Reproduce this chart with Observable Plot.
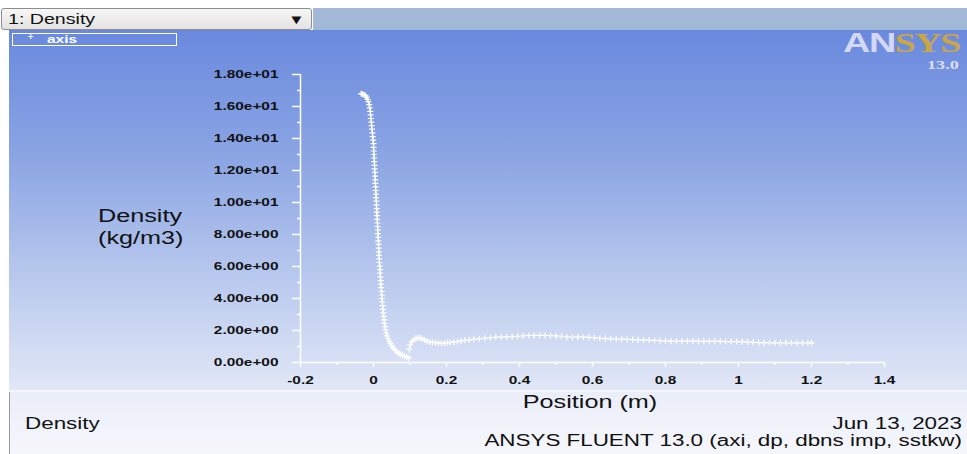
<!DOCTYPE html>
<html>
<head>
<meta charset="utf-8">
<script src="https://cdn.jsdelivr.net/npm/d3@7"></script>
<script src="https://cdn.jsdelivr.net/npm/@observablehq/plot@0.6"></script>
<style>
  html, body { margin: 0; padding: 0; background: #ffffff; }
  #page { position: relative; width: 967px; height: 454px; overflow: hidden;
          font-family: "Liberation Sans", Arial, sans-serif; }
  .abs { position: absolute; }
  .wide { position: absolute; white-space: nowrap; transform: scaleX(1.4); transform-origin: 0 0; }
  .wide.right { transform-origin: 100% 0; }
  .wide.center { transform-origin: 50% 0; }
  #selector { left: 1px; top: 8px; width: 311px; height: 22px; border: 1px solid #8e8e8e; border-radius: 3px;
              background: linear-gradient(#f7f7f7, #e2e2e2); box-sizing: border-box; }
  #bar { left: 313px; top: 8px; width: 654px; height: 22px; background: #a2b8d7; }
  #plotbg { left: 9px; top: 30px; width: 958px; height: 360px;
            background: linear-gradient(#6a89de 0%, #8ba5e3 35%, #bacaee 70%, #e1e7f6 100%); }
  #sep { left: 9px; top: 390px; width: 958px; height: 2px; background: #f4f6fc; }
  #footer { left: 9px; top: 392px; width: 958px; height: 62px; background: linear-gradient(#eaeef9, #f6f7fc);
            border-left: 1px solid #9a9a9a; box-sizing: border-box; }
  #legend { left: 12px; top: 33px; width: 165px; height: 13px; border: 1px solid #ffffff; box-sizing: border-box; }
  #chart { left: 0; top: 0; }
</style>
</head>
<body>
<div id="page">
  <div id="bar" class="abs"></div>
  <div id="selector" class="abs"></div>
  <div class="wide" style="left:8px;top:11px;font-size:14px;color:#111;">1: Density</div>
  <div class="abs" style="left:290px;top:12px;font-size:13px;color:#111;transform:scaleX(1.3);">&#9660;</div>
  <div id="plotbg" class="abs"></div>
  <div id="sep" class="abs"></div>
  <div id="footer" class="abs"></div>
  <div id="legend" class="abs"></div>
  <div class="abs" style="left:28px;top:32px;font-size:9px;color:#fff;font-weight:bold;">+</div>
  <div class="wide" style="left:47px;top:33px;font-size:11px;line-height:12px;color:#fff;font-weight:bold;">axis</div>
  <div class="wide" style="left:843px;top:28px;font-size:27px;font-weight:bold;letter-spacing:-1px;">
    <span style="color:#d3d8f3;">AN</span><span style="color:#c9a646;font-family:'Liberation Serif',serif;">SYS</span>
  </div>
  <div class="wide" style="left:927px;top:57px;font-size:13px;font-weight:bold;color:#d9def2;font-family:'Liberation Serif',serif;">13.0</div>
  <div class="wide center" style="left:110px;top:207px;width:60px;text-align:center;font-size:18px;line-height:18px;color:#111;">Density</div>
  <div class="wide center" style="left:110px;top:229px;width:60px;text-align:center;font-size:18px;line-height:18px;color:#111;">(kg/m3)</div>
  <div class="wide center" style="left:540px;top:392px;width:100px;text-align:center;font-size:18px;color:#111;">Position (m)</div>
  <div class="wide" style="left:25px;top:415px;font-size:16px;color:#111;">Density</div>
  <div class="wide right" style="left:862px;top:415px;width:100px;text-align:right;font-size:16px;color:#111;">Jun 13, 2023</div>
  <div class="wide right" style="left:562px;top:432px;width:400px;text-align:right;font-size:16px;color:#111;">ANSYS FLUENT 13.0 (axi, dp, dbns imp, sstkw)</div>
  <div id="chart" class="abs"></div>
</div>
<script>
// Density along the axis: steep fall behind the front, then the downstream plateau.
const steepPosition = [-0.034, -0.030, -0.026, -0.022, -0.019, -0.016, -0.014, -0.012, -0.010, -0.009,
  -0.008, -0.007, -0.006, -0.005, -0.004, -0.003, -0.002, -0.001, 0.000, 0.000,
  0.001, 0.001, 0.002, 0.002, 0.003, 0.003, 0.004, 0.004, 0.005, 0.005,
  0.006, 0.006, 0.007, 0.007, 0.008, 0.008, 0.009, 0.009, 0.010, 0.010,
  0.011, 0.011, 0.012, 0.012, 0.013, 0.013, 0.014, 0.014, 0.015, 0.015,
  0.016, 0.016, 0.017, 0.018, 0.018, 0.019, 0.020, 0.020, 0.021, 0.022,
  0.023, 0.023, 0.024, 0.025, 0.026, 0.027, 0.028, 0.029, 0.030, 0.032,
  0.033, 0.035, 0.037, 0.040, 0.043, 0.046, 0.050, 0.054, 0.058, 0.063,
  0.068, 0.073, 0.079, 0.085, 0.091, 0.097];
const steepDensity = [16.80, 16.78, 16.74, 16.68, 16.58, 16.45, 16.30, 16.12, 15.92, 15.70,
  15.48, 15.25, 15.02, 14.80, 14.58, 14.35, 14.12, 13.90, 13.68, 13.45,
  13.22, 13.00, 12.78, 12.55, 12.32, 12.10, 11.88, 11.65, 11.42, 11.20,
  10.98, 10.75, 10.52, 10.30, 10.08, 9.85, 9.62, 9.40, 9.18, 8.95,
  8.72, 8.50, 8.28, 8.05, 7.82, 7.60, 7.38, 7.15, 6.92, 6.70,
  6.48, 6.25, 6.02, 5.80, 5.58, 5.35, 5.12, 4.90, 4.68, 4.45,
  4.22, 4.00, 3.78, 3.55, 3.32, 3.10, 2.88, 2.66, 2.45, 2.24,
  2.04, 1.85, 1.67, 1.50, 1.34, 1.19, 1.05, 0.92, 0.80, 0.69,
  0.60, 0.52, 0.45, 0.39, 0.33, 0.28];
const tailPosition = [0.098, 0.101, 0.105, 0.110, 0.116, 0.122, 0.128, 0.134, 0.140, 0.147,
  0.154, 0.162, 0.170, 0.178, 0.186, 0.194, 0.202, 0.210, 0.220, 0.230,
  0.240, 0.250, 0.262, 0.275, 0.290, 0.305, 0.320, 0.335, 0.350, 0.365,
  0.380, 0.395, 0.410, 0.425, 0.440, 0.455, 0.470, 0.485, 0.500, 0.515,
  0.530, 0.545, 0.560, 0.575, 0.590, 0.605, 0.620, 0.635, 0.650, 0.665,
  0.680, 0.695, 0.710, 0.725, 0.740, 0.755, 0.770, 0.785, 0.800, 0.815,
  0.830, 0.845, 0.860, 0.875, 0.890, 0.905, 0.920, 0.935, 0.950, 0.965,
  0.980, 0.995, 1.010, 1.025, 1.040, 1.055, 1.070, 1.085, 1.100, 1.115,
  1.130, 1.145, 1.160, 1.175, 1.190, 1.200];
const tailDensity = [0.82, 1.10, 1.30, 1.42, 1.50, 1.54, 1.53, 1.48, 1.40, 1.33,
  1.28, 1.26, 1.24, 1.22, 1.19, 1.20, 1.23, 1.26, 1.28, 1.31,
  1.35, 1.39, 1.42, 1.45, 1.48, 1.52, 1.56, 1.58, 1.59, 1.60,
  1.62, 1.64, 1.67, 1.69, 1.69, 1.69, 1.69, 1.68, 1.66, 1.64,
  1.60, 1.58, 1.58, 1.58, 1.57, 1.55, 1.51, 1.49, 1.48, 1.47,
  1.46, 1.44, 1.43, 1.42, 1.41, 1.40, 1.38, 1.36, 1.34, 1.33,
  1.33, 1.33, 1.33, 1.33, 1.33, 1.32, 1.32, 1.32, 1.32, 1.31,
  1.31, 1.31, 1.30, 1.29, 1.26, 1.24, 1.24, 1.23, 1.23, 1.23,
  1.23, 1.23, 1.23, 1.23, 1.23, 1.23];

const xMajorTicks = [-0.2, 0, 0.2, 0.4, 0.6, 0.8, 1, 1.2, 1.4];
const xMinorTicks = [-0.1, 0.1, 0.3, 0.5, 0.7, 0.9, 1.1, 1.3];
const yMajorTicks = [0, 2, 4, 6, 8, 10, 12, 14, 16, 18];
const yMinorTicks = [1, 3, 5, 7, 9, 11, 13, 15, 17];

const points = [
  ...steepPosition.map((x, i) => ({x, y: steepDensity[i]})),
  ...tailPosition.map((x, i) => ({x, y: tailDensity[i]}))
];

// Fluent style exponent: 1.80e+01
const sci = d => {
  const [m, e] = d.toExponential(2).split("e");
  return m + "e" + e[0] + e.slice(1).padStart(2, "0");
};

const tickFont = {fontSize: 11, fontWeight: "bold", fill: "#111"};

const chart = Plot.plot({
  width: 967,
  height: 454,
  marginLeft: 300,
  marginRight: 83,
  marginTop: 74,
  marginBottom: 92,
  style: {background: "transparent", fontFamily: "'Liberation Sans', Arial, sans-serif"},
  x: {domain: [-0.2, 1.4], axis: null},
  y: {domain: [0, 18], axis: null},
  marks: [
    Plot.axisY(yMajorTicks, {anchor: "left", tickSize: 8, tickPadding: 14, stroke: "white", strokeWidth: 1.5,
      tickFormat: sci, ...tickFont, label: null}),
    Plot.axisY(yMinorTicks, {anchor: "left", tickSize: 3, stroke: "white", strokeWidth: 1.5, tickFormat: null, text: null, label: null}),
    Plot.axisX(xMajorTicks, {anchor: "bottom", tickSize: 5, tickPadding: 9, stroke: "white", strokeWidth: 1.5,
      tickFormat: d => String(d), ...tickFont, label: null}),
    Plot.axisX(xMinorTicks, {anchor: "bottom", tickSize: 3, stroke: "white", strokeWidth: 1.5, tickFormat: null, text: null, label: null}),
    Plot.ruleX([-0.2], {y1: 0, y2: 18, stroke: "white", strokeWidth: 1.5}),
    Plot.ruleY([0], {x1: -0.2, x2: 1.4, stroke: "white", strokeWidth: 1.5}),
    Plot.dot(points, {x: "x", y: "y", symbol: "plus", r: 2.1, stroke: "white", fill: "none", strokeWidth: 1.2})
  ]
});

// Stretch tick labels horizontally, as in the Fluent viewer
chart.querySelectorAll("text").forEach(t => {
  const tr = t.getAttribute("transform");
  if (tr) t.setAttribute("transform", tr + " scale(1.4,1)");
});

document.getElementById("chart").appendChild(chart);
</script>
</body>
</html>
